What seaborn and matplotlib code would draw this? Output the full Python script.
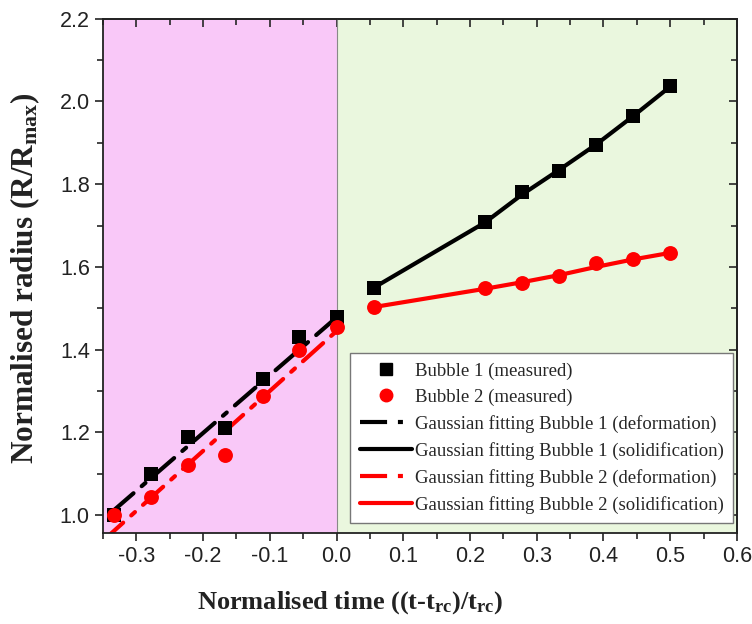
import numpy as np
import pandas as pd
import matplotlib
matplotlib.use("Agg")
import matplotlib.pyplot as plt
from matplotlib.lines import Line2D
import seaborn as sns

# Measured normalised radius of the two bubbles
time_deform = [-0.333, -0.278, -0.222, -0.167, -0.111, -0.056, 0.0]
time_solid = [0.056, 0.222, 0.278, 0.333, 0.389, 0.444, 0.5]
bubble1_deform = [1.00, 1.10, 1.19, 1.21, 1.33, 1.43, 1.48]
bubble2_deform = [1.00, 1.043, 1.12, 1.145, 1.287, 1.398, 1.455]
bubble1_solid = [1.550, 1.709, 1.782, 1.832, 1.895, 1.965, 2.037]
bubble2_solid = [1.504, 1.548, 1.562, 1.577, 1.610, 1.620, 1.634]

# Gaussian fitting curves
fit1_deform_t = [-0.335, 0.0]
fit1_deform_r = [1.010, 1.478]
fit2_deform_t = [-0.35, 0.0]
fit2_deform_r = [0.938, 1.445]
fit_solid_t = [0.056, 0.222, 0.278, 0.333, 0.389, 0.444, 0.5]
fit1_solid_r = [1.550, 1.707, 1.775, 1.834, 1.896, 1.964, 2.036]
fit2_solid_r = [1.503, 1.547, 1.563, 1.580, 1.600, 1.618, 1.634]

sns.set_theme(style="ticks")
plt.rcParams["font.family"] = ["Liberation Sans", "DejaVu Sans"]
plt.rcParams["axes.unicode_minus"] = False
plt.rcParams["mathtext.fontset"] = "custom"
plt.rcParams["mathtext.rm"] = "Liberation Serif:bold"
plt.rcParams["mathtext.it"] = "Liberation Serif:bold"
plt.rcParams["mathtext.bf"] = "Liberation Serif:bold"
plt.rcParams["mathtext.default"] = "rm"

fig = plt.figure(figsize=(7.52, 6.24), dpi=100)
ax = fig.add_axes([0.137, 0.146, 0.843, 0.824])

PINK = "#F9C8F8"
GREEN = "#EAF7DE"
ax.axvspan(-0.35, 0.0, color=PINK, zorder=0, lw=0)
ax.axvspan(0.0, 0.6, color=GREEN, zorder=0, lw=0)
ax.axvline(0.0, color="#888888", lw=0.8, zorder=1)

lw = 3.0
dashdot = (6.5, 2.6, 1.2, 2.6)

fits = [
    (fit1_deform_t, fit1_deform_r, "black", dashdot),
    (fit2_deform_t, fit2_deform_r, "red", dashdot),
    (fit_solid_t, fit1_solid_r, "black", None),
    (fit_solid_t, fit2_solid_r, "red", None),
]
for t, r, c, d in fits:
    df = pd.DataFrame({"t": t, "r": r})
    line_ax = sns.lineplot(data=df, x="t", y="r", ax=ax, color=c, lw=lw,
                           legend=False, zorder=2)
    ln = line_ax.get_lines()[-1]
    if d is not None:
        ln.set_dashes(d)
        ln.set_dash_capstyle("round")

b1 = pd.DataFrame({"t": time_deform + time_solid, "r": bubble1_deform + bubble1_solid})
b2 = pd.DataFrame({"t": time_deform + time_solid, "r": bubble2_deform + bubble2_solid})
sns.scatterplot(data=b1, x="t", y="r", ax=ax, marker="s", s=95, color="black",
                edgecolor="black", linewidth=0, zorder=3, legend=False)
sns.scatterplot(data=b2, x="t", y="r", ax=ax, marker="o", s=115, color="red",
                edgecolor="red", linewidth=0, zorder=3, legend=False)

xmaj = np.arange(-0.3, 0.61, 0.1)
xmin = np.arange(-0.35, 0.6, 0.05)
ymaj = [1.0, 1.2, 1.4, 1.6, 1.8, 2.0, 2.2]
ymin = np.arange(1.0, 2.21, 0.1)

ax.set_xlim(-0.35, 0.6)
ax.set_ylim(0.957, 2.2)
ax.set_xticks(xmaj)
ax.set_xticklabels(["-0.3", "-0.2", "-0.1", "0.0", "0.1", "0.2", "0.3", "0.4", "0.5", "0.6"])
ax.set_xticks(xmin, minor=True)
ax.set_yticks(ymaj)
ax.set_yticklabels(["1.0", "1.2", "1.4", "1.6", "1.8", "2.0", "2.2"])
ax.set_yticks(ymin, minor=True)
ax.tick_params(axis="both", which="major", direction="out", length=6, width=1.2,
               labelsize=15.5, colors="#222222")
ax.tick_params(axis="both", which="minor", direction="out", length=4, width=1.2)
for sp in ax.spines.values():
    sp.set_linewidth(1.3)
    sp.set_color("#222222")
    sp.set_visible(True)

# Mirrored ticks on top and right, pointing inward
top = ax.secondary_xaxis("top")
top.set_xticks(xmaj)
top.set_xticks(xmin, minor=True)
top.tick_params(which="major", direction="in", length=6, width=1.2, labeltop=False)
top.tick_params(which="minor", direction="in", length=4, width=1.2)
right = ax.secondary_yaxis("right")
right.set_yticks(ymaj)
right.set_yticks(ymin, minor=True)
right.tick_params(which="major", direction="in", length=6, width=1.2, labelright=False)
right.tick_params(which="minor", direction="in", length=4, width=1.2)

ax.set_xlabel("Normalised time ((t-t$_{rc}$)/t$_{rc}$)",
              family="Liberation Serif", weight="bold", size=19, color="#222222")
ax.xaxis.set_label_coords(0.39, -0.11)
ax.set_ylabel("Normalised radius (R/R$_{max}$)",
              family="Liberation Serif", weight="bold", size=22.5, color="#222222")
ax.yaxis.set_label_coords(-0.096, 0.495)

handles = [
    Line2D([], [], ls="none", marker="s", ms=8, color="black"),
    Line2D([], [], ls="none", marker="o", ms=9, color="red"),
    Line2D([], [], color="black", lw=lw, dashes=dashdot),
    Line2D([], [], color="black", lw=lw),
    Line2D([], [], color="red", lw=lw, dashes=dashdot),
    Line2D([], [], color="red", lw=lw),
]
labels = [
    "Bubble 1 (measured)",
    "Bubble 2 (measured)",
    "Gaussian fitting Bubble 1 (deformation)",
    "Gaussian fitting Bubble 1 (solidification)",
    "Gaussian fitting Bubble 2 (deformation)",
    "Gaussian fitting Bubble 2 (solidification)",
]
leg = ax.legend(handles, labels, loc="lower right", bbox_to_anchor=(0.994, 0.019),
                borderaxespad=0,
                prop=dict(family="Liberation Serif", size=13.5), frameon=True,
                fancybox=False, framealpha=1, edgecolor="#777777",
                handlelength=2.8, handletextpad=0.15, borderpad=0.5,
                labelspacing=0.48)
leg.get_frame().set_linewidth(1.0)
leg.set_zorder(5)

fig.savefig("out.png", dpi=100)
